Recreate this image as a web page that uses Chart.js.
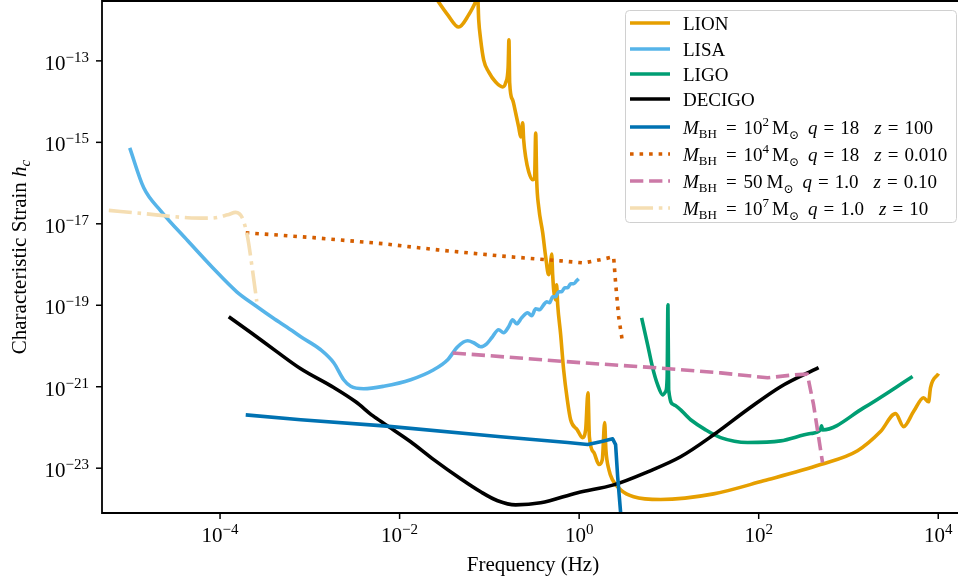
<!DOCTYPE html>
<html>
<head>
<meta charset="utf-8">
<script src="https://cdn.jsdelivr.net/npm/chart.js@4.4.1/dist/chart.umd.min.js"></script>
<style>
html,body{margin:0;padding:0;background:#ffffff;overflow:hidden}
canvas{display:block}
</style>
</head>
<body>
<canvas id="c" width="958" height="583"></canvas>
<script>
// ---------- DATA (values are log10 of frequency [Hz] and log10 of characteristic strain) ----------
const xTickExponents = [-4, -2, 0, 2, 4];
const yTickExponents = [-13, -15, -17, -19, -21, -23];
const xRangeExp = [-5.315, 4.22];
const yRangeExp = [-24.10, -11.53];

const detectorNames = ['LION', 'LISA', 'LIGO', 'DECIGO'];
const sourceMassMantissa = ['10', '10', '50', '10'];
const sourceMassExponent = ['2', '4', '', '7'];
const sourceQ = ['18', '18', '1.0', '1.0'];
const sourceZ = ['100', '0.010', '0.10', '10'];

const lionPoints = [[-1.620,-11.38],[-1.464,-11.87],[-1.342,-12.17],[-1.230,-11.87],[-1.153,-11.55],[-1.130,-11.43],[-1.119,-11.99],[-1.097,-12.48],[-1.063,-12.98],[-1.008,-13.27],[-0.930,-13.52],[-0.852,-13.64],[-0.819,-13.54],[-0.791,-13.15],[-0.782,-12.48],[-0.774,-13.54],[-0.741,-13.96],[-0.707,-14.28],[-0.674,-14.62],[-0.651,-14.87],[-0.629,-14.52],[-0.618,-14.94],[-0.596,-15.36],[-0.562,-15.72],[-0.518,-15.92],[-0.496,-15.85],[-0.484,-14.77],[-0.473,-15.92],[-0.451,-16.58],[-0.406,-17.22],[-0.373,-17.81],[-0.340,-18.25],[-0.318,-17.96],[-0.306,-17.74],[-0.295,-18.25],[-0.284,-18.62],[-0.262,-18.87],[-0.251,-18.50],[-0.239,-18.99],[-0.206,-19.72],[-0.173,-20.58],[-0.132,-21.32],[-0.095,-21.81],[-0.020,-22.06],[0.036,-22.25],[0.072,-22.06],[0.098,-21.15],[0.114,-22.23],[0.165,-22.62],[0.221,-22.91],[0.258,-22.79],[0.284,-21.88],[0.298,-22.55],[0.332,-23.04],[0.370,-23.28],[0.462,-23.53],[0.607,-23.70],[0.908,-23.77],[1.498,-23.63],[2.054,-23.31],[2.689,-22.91],[3.101,-22.57],[3.357,-22.10],[3.525,-21.66],[3.614,-21.98],[3.725,-21.61],[3.837,-21.27],[3.892,-21.37],[3.914,-21.02],[4.003,-20.68]];

const lisaPoints = [[-5.006,-15.135],[-4.850,-16.117],[-4.661,-16.681],[-4.360,-17.417],[-4.082,-18.080],[-3.814,-18.669],[-3.603,-19.012],[-3.413,-19.307],[-3.213,-19.601],[-3.101,-19.773],[-2.879,-20.092],[-2.734,-20.411],[-2.623,-20.828],[-2.545,-20.988],[-2.400,-21.049],[-2.177,-20.988],[-1.877,-20.828],[-1.620,-20.583],[-1.464,-20.337],[-1.353,-20.018],[-1.242,-19.871],[-1.175,-19.920],[-1.097,-20.018],[-1.030,-19.945],[-0.974,-19.798],[-0.897,-19.601],[-0.841,-19.675],[-0.785,-19.528],[-0.741,-19.356],[-0.696,-19.454],[-0.640,-19.307],[-0.574,-19.184],[-0.529,-19.258],[-0.484,-19.086],[-0.440,-19.110],[-0.395,-18.988],[-0.362,-18.914],[-0.329,-18.939],[-0.295,-18.791],[-0.262,-18.791],[-0.228,-18.669],[-0.195,-18.669],[-0.161,-18.571],[-0.128,-18.571],[-0.095,-18.472],[-0.061,-18.472],[-0.028,-18.399],[-0.006,-18.350]];

const ligoPoints = [[0.696,-19.31],[0.763,-19.97],[0.818,-20.53],[0.874,-20.95],[0.930,-21.20],[0.963,-21.12],[0.980,-20.80],[0.989,-18.99],[0.997,-21.07],[1.052,-21.44],[1.242,-21.81],[1.409,-22.06],[1.576,-22.25],[1.876,-22.37],[2.244,-22.33],[2.578,-22.15],[2.689,-22.06],[2.700,-21.96],[2.711,-22.06],[3.168,-21.52],[3.714,-20.75]];

const decigoPoints = [[-3.903,-19.28],[-3.658,-19.67],[-3.380,-20.12],[-3.101,-20.56],[-2.734,-21.02],[-2.489,-21.37],[-2.300,-21.71],[-2.155,-21.93],[-1.877,-22.35],[-1.620,-22.79],[-1.320,-23.26],[-1.097,-23.58],[-0.908,-23.80],[-0.707,-23.90],[-0.429,-23.85],[-0.017,-23.60],[0.384,-23.41],[0.763,-23.09],[1.130,-22.72],[1.498,-22.18],[1.876,-21.56],[2.244,-21.00],[2.667,-20.53]];

const source1Points = [[-3.714,-21.69],[-3.101,-21.81],[-2.177,-21.96],[-0.874,-22.23],[-0.128,-22.37],[0.095,-22.42],[0.239,-22.35],[0.373,-22.28],[0.406,-22.42],[0.429,-23.21],[0.462,-24.09],[0.484,-24.75]];

const source2Points = [[-3.714,-17.22],[-2.957,-17.34],[-2.177,-17.49],[-1.576,-17.64],[-0.874,-17.79],[-0.206,-17.91],[0.050,-17.96],[0.239,-17.88],[0.384,-17.81],[0.406,-18.45],[0.440,-19.28],[0.484,-19.92]];

const source3Points = [[-1.409,-20.17],[0.017,-20.41],[0.830,-20.53],[1.576,-20.66],[2.099,-20.78],[2.389,-20.71],[2.541,-20.69],[2.611,-21.44],[2.711,-22.86]];

const source4Points = [[-5.239,-16.67],[-4.850,-16.75],[-4.360,-16.85],[-4.104,-16.86],[-3.915,-16.78],[-3.826,-16.72],[-3.751,-16.86],[-3.695,-17.31],[-3.639,-18.13],[-3.591,-18.91]];

// ---------- BUILD ----------
const toXY = pts => pts.map(([f, h]) => ({ x: Math.pow(10, f), y: Math.pow(10, h) }));

const LW = 3.6;
const seriesDefs = [
  { label: detectorNames[0], pts: lionPoints,   color: '#E69F00', dash: [], smooth: true },
  { label: detectorNames[1], pts: lisaPoints,   color: '#56B4E9', dash: [], smooth: true },
  { label: detectorNames[2], pts: ligoPoints,   color: '#009E73', dash: [], smooth: true },
  { label: detectorNames[3], pts: decigoPoints, color: '#000000', dash: [], smooth: true },
  { label: 'source1', pts: source1Points, color: '#0072B2', dash: [], smooth: false },
  { label: 'source2', pts: source2Points, color: '#D55E00', dash: [LW * 1.0, LW * 1.65], smooth: false },
  { label: 'source3', pts: source3Points, color: '#CC79A7', dash: [LW * 3.7, LW * 1.6], smooth: false },
  { label: 'source4', pts: source4Points, color: '#F5DEB3', dash: [LW * 6.4, LW * 1.6, LW * 1.0, LW * 1.6], smooth: true }
];

const datasets = seriesDefs.map((s, i) => ({
  label: s.label,
  data: toXY(s.pts),
  borderColor: s.color,
  backgroundColor: s.color,
  borderWidth: LW,
  borderDash: s.dash,
  borderCapStyle: 'butt',
  borderJoinStyle: 'round',
  pointRadius: 0,
  pointHoverRadius: 0,
  tension: s.smooth ? 0.4 : 0,
  cubicInterpolationMode: s.smooth ? 'monotone' : 'default',
  fill: false,
  clip: 0,
  order: seriesDefs.length - i
}));

const SERIF = '"Liberation Serif", "DejaVu Serif", serif';
const f = (size, style) => `${style ? style + ' ' : ''}${size}px ${SERIF}`;

function drawRich(ctx, parts, x, y) {
  for (const p of parts) {
    ctx.font = p.f;
    ctx.fillText(p.t, x, y + (p.dy || 0));
    x += ctx.measureText(p.t).width + (p.gap || 0);
  }
  return x;
}
function richWidth(ctx, parts) {
  let w = 0;
  for (const p of parts) { ctx.font = p.f; w += ctx.measureText(p.t).width + (p.gap || 0); }
  return w;
}
function powParts(exp) {
  const e = exp < 0 ? '\u2212' + Math.abs(exp) : String(exp);
  return [{ t: '10', f: f(21) }, { t: e, f: f(15), dy: -8 }];
}

const decorPlugin = {
  id: 'decor',
  afterDraw(chart) {
    const { ctx, chartArea: a, scales: { x, y } } = chart;
    ctx.save();
    ctx.fillStyle = '#000';
    ctx.strokeStyle = '#000';
    ctx.textBaseline = 'alphabetic';
    ctx.textAlign = 'left';

    // spines (top, left, bottom)
    ctx.lineWidth = 1.8;
    ctx.lineCap = 'butt';
    ctx.beginPath();
    ctx.moveTo(a.right + 2, a.top);
    ctx.lineTo(a.left, a.top);
    ctx.lineTo(a.left, a.bottom);
    ctx.lineTo(a.right + 2, a.bottom);
    ctx.stroke();

    // ticks & tick labels
    ctx.lineWidth = 1.5;
    for (const e of xTickExponents) {
      const px = x.getPixelForValue(Math.pow(10, e));
      ctx.beginPath(); ctx.moveTo(px, a.bottom); ctx.lineTo(px, a.bottom + 6); ctx.stroke();
      const parts = powParts(e);
      const w = richWidth(ctx, parts);
      drawRich(ctx, parts, px - w / 2, a.bottom + 29);
    }
    for (const e of yTickExponents) {
      const py = y.getPixelForValue(Math.pow(10, e));
      ctx.beginPath(); ctx.moveTo(a.left, py); ctx.lineTo(a.left - 6, py); ctx.stroke();
      const parts = powParts(e);
      const w = richWidth(ctx, parts);
      drawRich(ctx, parts, a.left - 13 - w, py + 9);
    }

    // x axis title
    ctx.font = f(21);
    ctx.textAlign = 'center';
    ctx.fillText('Frequency (Hz)', (a.left + a.right) / 2 + 3, 571);
    ctx.textAlign = 'left';

    // y axis title (rotated)
    ctx.save();
    ctx.translate(26, (a.top + a.bottom) / 2);
    ctx.rotate(-Math.PI / 2);
    const yParts = [
      { t: 'Characteristic Strain ', f: f(21) },
      { t: 'h', f: f(21, 'italic') },
      { t: 'c', f: f(15, 'italic'), dy: 4 }
    ];
    const yw = richWidth(ctx, yParts);
    drawRich(ctx, yParts, -yw / 2, 0);
    ctx.restore();

    // legend
    const lx = 625, ly = 10, lw = 331, lh = 212;
    ctx.beginPath();
    ctx.roundRect(lx + 0.5, ly + 0.5, lw, lh, 4);
    ctx.fillStyle = 'rgba(255,255,255,0.85)';
    ctx.fill();
    ctx.strokeStyle = '#d0d0d0';
    ctx.lineWidth = 1;
    ctx.stroke();

    const rowY = [23, 49, 74, 99, 127, 154, 181, 208];
    chart.data.datasets.forEach((ds, i) => {
      const ry = rowY[i];
      ctx.save();
      ctx.strokeStyle = ds.borderColor;
      ctx.lineWidth = ds.borderWidth;
      ctx.lineCap = 'butt';
      ctx.setLineDash(ds.borderDash || []);
      ctx.beginPath(); ctx.moveTo(630, ry); ctx.lineTo(670, ry); ctx.stroke();
      ctx.restore();
      ctx.fillStyle = '#000';
      if (i < 4) {
        ctx.font = f(19);
        ctx.fillText(detectorNames[i], 683, ry + 7);
      } else {
        const k = i - 4;
        const parts = [
          { t: 'M', f: f(19, 'italic') },
          { t: 'BH', f: f(13), dy: 4, gap: 9 },
          { t: '=', f: f(19), gap: 7 },
          { t: sourceMassMantissa[k], f: f(19), gap: sourceMassExponent[k] ? 0 : 4 }
        ];
        if (sourceMassExponent[k]) parts.push({ t: sourceMassExponent[k], f: f(13), dy: -8, gap: 3 });
        parts.push(
          { t: 'M', f: f(19) },
          { t: '\u2299', f: f(12), dy: 5, gap: 9 },
          { t: 'q', f: f(19, 'italic'), gap: 6 },
          { t: '=', f: f(19), gap: 6 },
          { t: sourceQ[k], f: f(19), gap: 15 },
          { t: 'z', f: f(19, 'italic'), gap: 6 },
          { t: '=', f: f(19), gap: 6 },
          { t: sourceZ[k], f: f(19) }
        );
        drawRich(ctx, parts, 683, ry + 7);
      }
    });
    ctx.restore();
  }
};

new Chart(document.getElementById('c'), {
  type: 'line',
  data: { datasets },
  options: {
    responsive: false,
    animation: false,
    devicePixelRatio: 1,
    layout: { padding: { top: 1, left: 0, right: 0, bottom: 0 } },
    plugins: { legend: { display: false }, tooltip: { enabled: false } },
    events: [],
    scales: {
      x: {
        type: 'logarithmic',
        min: Math.pow(10, xRangeExp[0]),
        max: Math.pow(10, xRangeExp[1]),
        ticks: { display: false },
        grid: { display: false },
        border: { display: false },
        afterFit(s) { s.height = 70; }
      },
      y: {
        type: 'logarithmic',
        min: Math.pow(10, yRangeExp[0]),
        max: Math.pow(10, yRangeExp[1]),
        ticks: { display: false },
        grid: { display: false },
        border: { display: false },
        afterFit(s) { s.width = 102; }
      }
    }
  },
  plugins: [decorPlugin]
});
</script>
</body>
</html>
